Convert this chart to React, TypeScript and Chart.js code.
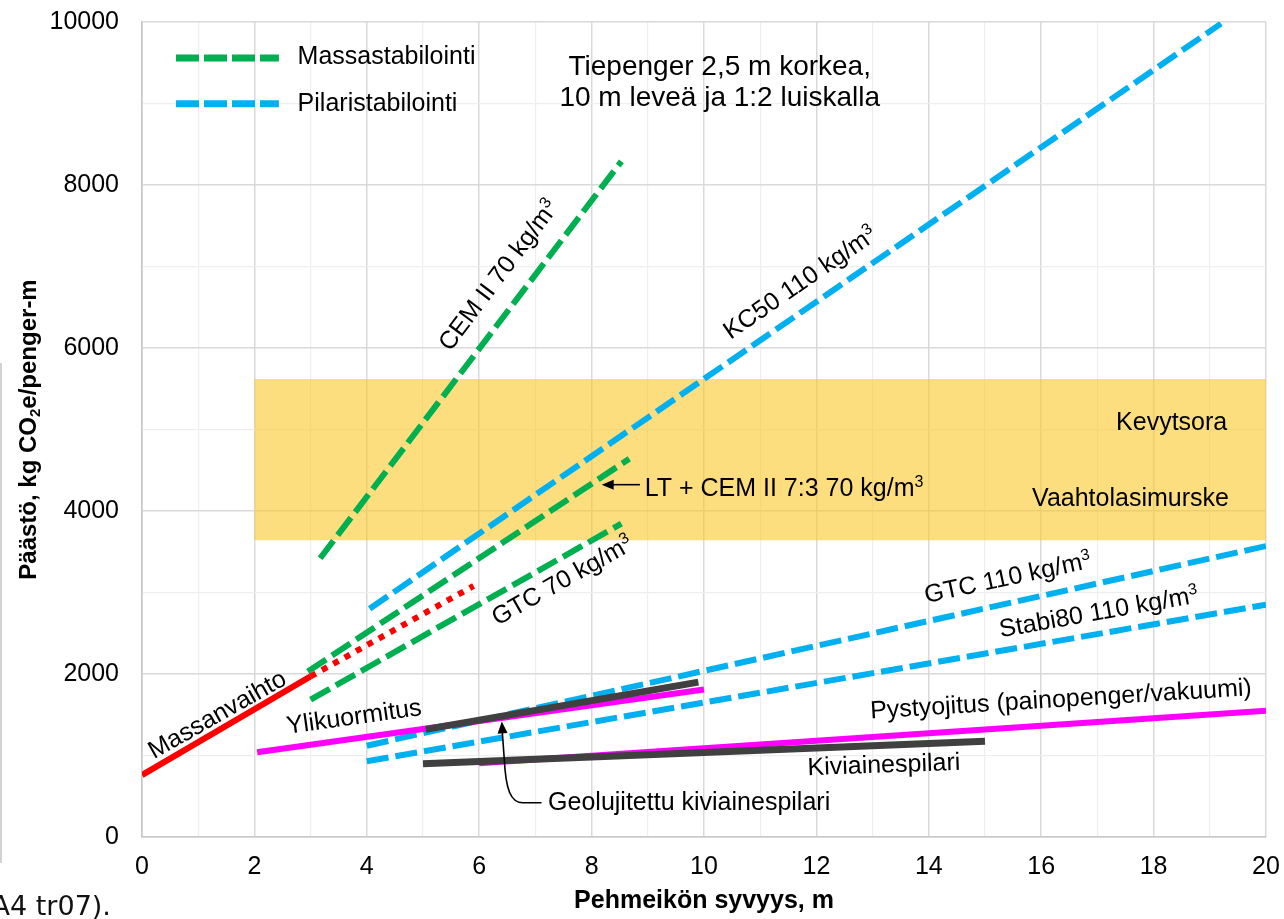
import React, { useEffect, useRef } from 'react';
import { Chart, registerables } from 'chart.js';

Chart.register(...registerables);

const FONT = '"Liberation Sans", Arial, Helvetica, sans-serif';

// ---- axes ----
const X_MIN = 0;
const X_MAX = 20;
const Y_MIN = 0;
const Y_MAX = 10000;
const X_STEP = 1;
const Y_STEP = 1000;
const X_LABEL_EVERY = 2;
const Y_LABEL_EVERY = 2000;
const X_TITLE = 'Pehmeikön syvyys, m';
const Y_TITLE = 'Päästö, kg CO_2e/penger-m';
const TITLE_LINES = ['Tiepenger 2,5 m korkea,', '10 m leveä ja 1:2 luiskalla'];
const LEGEND_LABELS = ['Massastabilointi', 'Pilaristabilointi'];

// ---- shaded band (Kevytsora / Vaahtolasimurske) ----
const bandX = [2, 20];
const bandTop = [5620, 5620];
const bandBottom = 3640;

// ---- series (x = depth m, y = kg CO2e / penger-m) ----
const massanvaihtoX = [0, 3];
const massanvaihtoY = [760, 1970];
const massanvaihtoExtX = [3, 5.9];
const massanvaihtoExtY = [1970, 3080];

const cemX = [3.17, 8.53];
const cemY = [3420, 8290];
const ltCemX = [2.95, 8.67];
const ltCemY = [2030, 4640];
const gtc70X = [3.0, 8.53];
const gtc70Y = [1685, 3844];

const kc50X = [4.05, 19.2];
const kc50Y = [2800, 9980];
const gtc110X = [4, 20];
const gtc110Y = [1120, 3570];
const stabi80X = [4, 20];
const stabi80Y = [930, 2850];

const ylikuormitusX = [2.05, 10];
const ylikuormitusY = [1040, 1810];
const pystyojitusX = [6, 20];
const pystyojitusY = [905, 1550];

const geoPilariX = [5.05, 9.9];
const geoPilariY = [1320, 1900];
const kiviPilariX = [5, 15];
const kiviPilariY = [900, 1175];

// ---- annotations (data coordinates) ----
const LABELS = [
  { text: 'Massanvaihto', x: 1.33, y: 1513, angle: -29.5, align: 'center', base: 'middle' },
  { text: 'Ylikuormitus', x: 3.77, y: 1488, angle: -8, align: 'center', base: 'middle' },
  { text: 'CEM II 70 kg/m^3', x: 6.33, y: 6899, angle: -53, align: 'center', base: 'middle' },
  { text: 'KC50 110 kg/m^3', x: 11.7, y: 6811, angle: -34.5, align: 'center', base: 'middle' },
  { text: 'GTC 70 kg/m^3', x: 7.47, y: 3157, angle: -29.5, align: 'center', base: 'middle' },
  { text: 'GTC 110 kg/m^3', x: 15.4, y: 3194, angle: -12, align: 'center', base: 'middle' },
  { text: 'Stabi80 110 kg/m^3', x: 17.02, y: 2771, angle: -10, align: 'center', base: 'middle' },
  { text: 'Pystyojitus (painopenger/vakuumi)', x: 16.35, y: 1704, angle: -3.5, align: 'center', base: 'middle' },
  { text: 'Kiviainespilari', x: 13.2, y: 899, angle: -2, align: 'center', base: 'middle' },
  { text: 'Geolujitettu kiviainespilari', x: 7.226, y: 326, angle: 0, align: 'left', base: 'alphabetic' },
  { text: 'LT + CEM II 7:3 70 kg/m^3', x: 8.945, y: 4188, angle: 0, align: 'left', base: 'alphabetic' },
  { text: 'Kevytsora', x: 19.31, y: 4998, angle: 0, align: 'right', base: 'alphabetic' },
  { text: 'Vaahtolasimurske', x: 19.34, y: 4056, angle: 0, align: 'right', base: 'alphabetic' },
];
const LABEL_SIZE = 25;

const TITLE_X = 10.28;
const TITLE_BASE_Y = [9353, 8967];
const TITLE_SIZE = 28;

const LEGEND_LINE_X = [0.605, 2.436];
const LEGEND_LINE_Y = [9558, 8998];
const LEGEND_TEXT_X = 2.769;
const LEGEND_TEXT_Y = [9587, 9017];

const LT_ARROW = { fromX: 8.86, toX: 8.18, y: 4323 };
const GEO_ARROW = {
  tail: [7.108, 421],
  corner: [6.776, 421],
  cp1: [6.562, 421],
  cp2: [6.473, 580],
  mid: [6.447, 948],
  tip: [6.402, 1418],
};

const GREEN = '#00B050';
const BLUE = '#00B0F0';
const RED = '#FF0000';
const MAGENTA = '#FF00FF';
const DARK = '#404040';
const DASH = [22, 7];

const pts = (xs: number[], ys: number[]) => xs.map((x, i) => ({ x, y: ys[i] }));

type Seg = { t: string; k: 'n' | 'sup' | 'sub' };
function parseRich(s: string): Seg[] {
  const out: Seg[] = [];
  const re = /([\^_])(\d)/g;
  let last = 0;
  let m: RegExpExecArray | null;
  while ((m = re.exec(s))) {
    if (m.index > last) out.push({ t: s.slice(last, m.index), k: 'n' });
    out.push({ t: m[2], k: m[1] === '^' ? 'sup' : 'sub' });
    last = m.index + 2;
  }
  if (last < s.length) out.push({ t: s.slice(last), k: 'n' });
  return out;
}

function drawRich(
  ctx: CanvasRenderingContext2D,
  text: string,
  x: number,
  y: number,
  size: number,
  weight: string,
  align: string,
  base: string,
) {
  const segs = parseRich(text);
  const small = Math.round(size * 0.62);
  const fontFor = (k: string) => `${weight} ${k === 'n' ? size : small}px ${FONT}`;
  let total = 0;
  const widths = segs.map((sg) => {
    ctx.font = fontFor(sg.k);
    const w = ctx.measureText(sg.t).width;
    total += w;
    return w;
  });
  let cx = align === 'center' ? x - total / 2 : align === 'right' ? x - total : x;
  const by = base === 'middle' ? y + size * 0.35 : y;
  ctx.textAlign = 'left';
  ctx.textBaseline = 'alphabetic';
  segs.forEach((sg, i) => {
    ctx.font = fontFor(sg.k);
    const dy = sg.k === 'sup' ? -size * 0.36 : sg.k === 'sub' ? size * 0.16 : 0;
    ctx.fillText(sg.t, cx, by + dy);
    cx += widths[i];
  });
}

function arrowHead(ctx: CanvasRenderingContext2D, tx: number, ty: number, fx: number, fy: number, len: number, wid: number) {
  const a = Math.atan2(ty - fy, tx - fx);
  ctx.beginPath();
  ctx.moveTo(tx, ty);
  ctx.lineTo(tx - len * Math.cos(a) + (wid / 2) * Math.sin(a), ty - len * Math.sin(a) - (wid / 2) * Math.cos(a));
  ctx.lineTo(tx - len * Math.cos(a) - (wid / 2) * Math.sin(a), ty - len * Math.sin(a) + (wid / 2) * Math.cos(a));
  ctx.closePath();
  ctx.fill();
}

const annotPlugin = {
  id: 'annot',
  afterDatasetsDraw(chart: any) {
    const { ctx, scales, chartArea } = chart;
    const sx = scales.x;
    const sy = scales.y;
    const px = (v: number) => sx.getPixelForValue(v);
    const py = (v: number) => sy.getPixelForValue(v);
    ctx.save();
    ctx.fillStyle = '#000';
    ctx.strokeStyle = '#000';

    for (const a of LABELS) {
      ctx.save();
      ctx.translate(px(a.x), py(a.y));
      ctx.rotate((a.angle * Math.PI) / 180);
      drawRich(ctx, a.text, 0, 0, LABEL_SIZE, 'normal', a.align, a.base);
      ctx.restore();
    }

    TITLE_LINES.forEach((t, i) => {
      drawRich(ctx, t, px(TITLE_X), py(TITLE_BASE_Y[i]), TITLE_SIZE, 'normal', 'center', 'alphabetic');
    });

    const legendColors = [GREEN, BLUE];
    LEGEND_LABELS.forEach((t, i) => {
      ctx.save();
      ctx.strokeStyle = legendColors[i];
      ctx.lineWidth = 7;
      ctx.lineCap = 'butt';
      ctx.setLineDash([23, 5]);
      ctx.beginPath();
      ctx.moveTo(px(LEGEND_LINE_X[0]), py(LEGEND_LINE_Y[i]));
      ctx.lineTo(px(LEGEND_LINE_X[1]), py(LEGEND_LINE_Y[i]));
      ctx.stroke();
      ctx.restore();
      drawRich(ctx, t, px(LEGEND_TEXT_X), py(LEGEND_TEXT_Y[i]), 25, 'normal', 'left', 'middle');
    });

    ctx.lineWidth = 1.6;
    ctx.setLineDash([]);
    {
      const fx = px(LT_ARROW.fromX);
      const tx = px(LT_ARROW.toX);
      const yy = py(LT_ARROW.y);
      ctx.beginPath();
      ctx.moveTo(fx, yy);
      ctx.lineTo(tx + 8, yy);
      ctx.stroke();
      arrowHead(ctx, tx, yy, fx, yy, 12, 10);
    }

    {
      const P = (p: number[]) => [px(p[0]), py(p[1])];
      const tail = P(GEO_ARROW.tail);
      const corner = P(GEO_ARROW.corner);
      const c1 = P(GEO_ARROW.cp1);
      const c2 = P(GEO_ARROW.cp2);
      const mid = P(GEO_ARROW.mid);
      const tip = P(GEO_ARROW.tip);
      ctx.beginPath();
      ctx.moveTo(tail[0], tail[1]);
      ctx.lineTo(corner[0], corner[1]);
      ctx.bezierCurveTo(c1[0], c1[1], c2[0], c2[1], mid[0], mid[1]);
      ctx.lineTo(tip[0] + 0.3, tip[1] + 8);
      ctx.stroke();
      arrowHead(ctx, tip[0], tip[1], mid[0], mid[1], 12, 10);
    }

    ctx.save();
    ctx.translate(chartArea.left - 114, (chartArea.top + chartArea.bottom) / 2);
    ctx.rotate(-Math.PI / 2);
    drawRich(ctx, Y_TITLE, 0, 0, 24, 'bold', 'center', 'middle');
    ctx.restore();

    ctx.restore();
  },
  afterDraw(chart: any) {
    const { ctx } = chart;
    ctx.save();
    ctx.strokeStyle = '#c4c4c4';
    ctx.lineWidth = 1.5;
    ctx.beginPath();
    ctx.moveTo(1, 363);
    ctx.lineTo(1, 863);
    ctx.stroke();
    ctx.fillStyle = '#111';
    ctx.font = '27px "DejaVu Sans", Verdana, sans-serif';
    ctx.textAlign = 'left';
    ctx.textBaseline = 'alphabetic';
    ctx.fillText('(A4 tr07).', -19, 915);
    ctx.restore();
  },
};

function lineDs(label: string, xs: number[], ys: number[], color: string, width: number, dash: number[], order: number) {
  return {
    label,
    data: pts(xs, ys),
    borderColor: color,
    backgroundColor: color,
    borderWidth: width,
    borderDash: dash,
    borderCapStyle: 'butt',
    pointRadius: 0,
    pointHoverRadius: 0,
    fill: false,
    tension: 0,
    order,
  };
}

const zeroPad = (s: any) => {
  s.paddingTop = 0;
  s.paddingBottom = 0;
  s.paddingLeft = 0;
  s.paddingRight = 0;
};

export default function App() {
  const ref = useRef<HTMLCanvasElement | null>(null);

  useEffect(() => {
    document.body.style.margin = '0';
    const canvas = ref.current;
    if (!canvas) return;

    const datasets: any[] = [
      {
        label: 'band',
        data: pts(bandX, bandTop),
        borderWidth: 0,
        borderColor: 'rgba(0,0,0,0)',
        backgroundColor: 'rgba(252, 200, 40, 0.6)',
        pointRadius: 0,
        fill: { value: bandBottom },
        tension: 0,
        order: 20,
      },
      lineDs('KC50 110', kc50X, kc50Y, BLUE, 6, DASH, 10),
      lineDs('GTC 110', gtc110X, gtc110Y, BLUE, 6, DASH, 10),
      lineDs('Stabi80 110', stabi80X, stabi80Y, BLUE, 6, DASH, 10),
      lineDs('CEM II 70', cemX, cemY, GREEN, 6, DASH, 8),
      lineDs('LT + CEM II', ltCemX, ltCemY, GREEN, 6, DASH, 8),
      lineDs('GTC 70', gtc70X, gtc70Y, GREEN, 6, DASH, 8),
      lineDs('Massanvaihto ext', massanvaihtoExtX, massanvaihtoExtY, RED, 6, [6, 7], 6),
      lineDs('Massanvaihto', massanvaihtoX, massanvaihtoY, RED, 6, [], 6),
      lineDs('Ylikuormitus', ylikuormitusX, ylikuormitusY, MAGENTA, 6, [], 4),
      lineDs('Pystyojitus', pystyojitusX, pystyojitusY, MAGENTA, 6, [], 4),
      lineDs('Geolujitettu kiviainespilari', geoPilariX, geoPilariY, DARK, 7, [], 2),
      lineDs('Kiviainespilari', kiviPilariX, kiviPilariY, DARK, 7, [], 2),
    ];

    const chart = new Chart(canvas, {
      type: 'line',
      data: { datasets },
      options: {
        animation: false,
        responsive: false,
        maintainAspectRatio: false,
        devicePixelRatio: 1,
        layout: { padding: { left: 0, right: 18, top: 22, bottom: 0 } },
        plugins: {
          legend: { display: false },
          tooltip: { enabled: false },
          title: { display: false },
        },
        scales: {
          x: {
            type: 'linear',
            min: X_MIN,
            max: X_MAX,
            ticks: {
              stepSize: X_STEP,
              autoSkip: false,
              maxRotation: 0,
              padding: 15,
              color: '#000',
              font: { family: FONT, size: 25 },
              callback: (v: any) => (Number(v) % X_LABEL_EVERY === 0 ? String(v) : ''),
            },
            grid: {
              drawTicks: false,
              color: (c: any) => (c.tick && c.tick.value % X_LABEL_EVERY === 0 ? '#d9d9d9' : '#eeeeee'),
              lineWidth: (c: any) => (c.tick && c.tick.value % X_LABEL_EVERY === 0 ? 1.5 : 1.2),
            },
            border: { color: '#c8c8c8', width: 1.6 },
            title: {
              display: true,
              text: X_TITLE,
              color: '#000',
              font: { family: FONT, size: 25, weight: 'bold' },
              padding: { top: 0, bottom: 3 },
            },
            afterFit: (s: any) => {
              s.height = 82;
              zeroPad(s);
            },
          },
          y: {
            type: 'linear',
            min: Y_MIN,
            max: Y_MAX,
            ticks: {
              stepSize: Y_STEP,
              autoSkip: false,
              padding: 23,
              color: '#000',
              font: { family: FONT, size: 25 },
              callback: (v: any) => (Number(v) % Y_LABEL_EVERY === 0 ? String(v) : ''),
            },
            grid: {
              drawTicks: false,
              color: (c: any) => (c.tick && c.tick.value % Y_LABEL_EVERY === 0 ? '#d9d9d9' : '#eeeeee'),
              lineWidth: (c: any) => (c.tick && c.tick.value % Y_LABEL_EVERY === 0 ? 1.5 : 1.2),
            },
            border: { color: '#c8c8c8', width: 1.6 },
            title: { display: false },
            afterFit: (s: any) => {
              s.width = 142;
              zeroPad(s);
            },
          },
        },
      },
      plugins: [annotPlugin],
    } as any);

    return () => chart.destroy();
  }, []);

  return (
    <div style={{ width: 1284, height: 919, position: 'relative', background: '#fff' }}>
      <canvas ref={ref} width={1284} height={919} style={{ display: 'block' }} />
    </div>
  );
}
